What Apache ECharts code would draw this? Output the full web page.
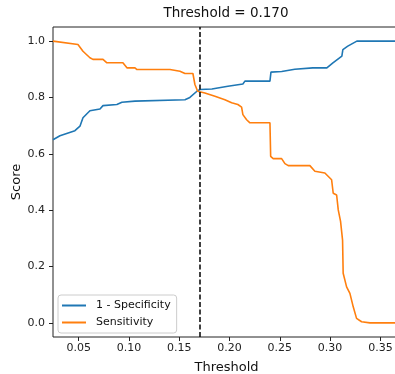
<!DOCTYPE html>
<html>
<head>
<meta charset="utf-8">
<script src="https://cdn.jsdelivr.net/npm/echarts@6/dist/echarts.min.js"></script>
<style>
  html, body { margin: 0; padding: 0; background: #fff; }
  #main { width: 395px; height: 374px; }
</style>
</head>
<body>
<div id="main"></div>
<script>
// 1 - Specificity curve (threshold, score)
const specThresh = [0.0245, 0.0314, 0.0463, 0.0513, 0.0543, 0.0612, 0.0712, 0.0742, 0.088, 0.093, 0.106,
  0.1557, 0.1606, 0.1676, 0.1706, 0.1825, 0.1984, 0.2133, 0.2153, 0.2402, 0.2412, 0.2519, 0.2649,
  0.2828, 0.2968, 0.3028, 0.3117, 0.3127, 0.3176, 0.3266, 0.3695];
const specScore = [0.650, 0.664, 0.682, 0.698, 0.728, 0.753, 0.759, 0.771, 0.775, 0.783, 0.787,
  0.792, 0.800, 0.822, 0.828, 0.830, 0.840, 0.848, 0.858, 0.858, 0.890, 0.892, 0.900,
  0.905, 0.905, 0.923, 0.947, 0.970, 0.982, 1.000, 1.000];

// Sensitivity curve (threshold, score)
const sensThresh = [0.0245, 0.0493, 0.0543, 0.0612, 0.0642, 0.0742, 0.0781, 0.094, 0.098, 0.106, 0.108,
  0.1408, 0.1507, 0.1557, 0.1636, 0.1656, 0.1683, 0.1755, 0.1855, 0.1954, 0.2021, 0.2083, 0.212,
  0.2133, 0.217, 0.2203, 0.2402, 0.2409, 0.2434, 0.2518, 0.2551, 0.2584, 0.2799, 0.2849, 0.2948,
  0.3015, 0.3031, 0.3065, 0.3081, 0.3104, 0.3124, 0.313, 0.3164, 0.3197, 0.323, 0.3263, 0.3313,
  0.3396, 0.3695];
const sensScore = [1.000, 0.988, 0.964, 0.941, 0.935, 0.935, 0.923, 0.923, 0.905, 0.905, 0.899,
  0.899, 0.893, 0.885, 0.885, 0.846, 0.822, 0.816, 0.804, 0.792, 0.781, 0.775, 0.766,
  0.739, 0.721, 0.710, 0.710, 0.591, 0.583, 0.583, 0.565, 0.558, 0.558, 0.538, 0.532,
  0.508, 0.460, 0.454, 0.401, 0.360, 0.294, 0.176, 0.128, 0.105, 0.057, 0.016, 0.004,
  0.000, 0.000];

const xTicks = [0.05, 0.10, 0.15, 0.20, 0.25, 0.30, 0.35];
const yTicks = [0.0, 0.2, 0.4, 0.6, 0.8, 1.0];
const threshold = 0.17;

const font = 'DejaVu Sans';

const chart = echarts.init(document.getElementById('main'));

const option = {
  animation: false,
  title: {
    text: 'Threshold = 0.170',
    left: 221,
    top: 1,
    textAlign: 'center',
    textStyle: { fontFamily: font, fontSize: 13.5, fontWeight: 'normal', color: '#111' }
  },
  grid: {
    left: 53,
    right: -5,
    top: 27,
    bottom: 37,
    containLabel: false,
    outerBoundsMode: 'none',
    show: true,
    borderColor: '#222',
    borderWidth: 1,
    backgroundColor: '#fff'
  },
  legend: {
    orient: 'vertical',
    left: 58,
    top: 295,
    padding: [5, 6, 5, 4],
    itemGap: 6,
    itemWidth: 24,
    itemHeight: 2,
    icon: 'rect',
    backgroundColor: 'rgba(255,255,255,0.8)',
    borderColor: '#ccc',
    borderWidth: 1,
    borderRadius: 3,
    textStyle: { fontFamily: font, fontSize: 11, color: '#111', padding: [0, 0, 0, 5] },
    data: ['1 - Specificity', 'Sensitivity']
  },
  xAxis: {
    type: 'value',
    min: 0.0245,
    max: 0.3695,
    name: 'Threshold',
    nameLocation: 'middle',
    nameGap: 24,
    nameTextStyle: { fontFamily: font, fontSize: 13, color: '#111' },
    axisLine: { show: false, onZero: false },
    axisTick: { show: true, length: 4, customValues: xTicks, lineStyle: { color: '#222' } },
    axisLabel: {
      customValues: xTicks,
      margin: 6,
      fontFamily: font,
      fontSize: 11,
      color: '#222',
      formatter: v => v.toFixed(2)
    },
    splitLine: { show: false }
  },
  yAxis: {
    type: 'value',
    min: -0.05,
    max: 1.05,
    name: 'Score',
    nameLocation: 'middle',
    nameRotate: 90,
    nameGap: 30,
    nameMoveOverlap: false,
    nameTextStyle: { fontFamily: font, fontSize: 13, color: '#111' },
    axisLine: { show: false, onZero: false },
    axisTick: { show: true, length: 4, customValues: yTicks, lineStyle: { color: '#222' } },
    axisLabel: {
      customValues: yTicks,
      margin: 8,
      fontFamily: font,
      fontSize: 11,
      color: '#222',
      formatter: v => v.toFixed(1)
    },
    splitLine: { show: false }
  },
  series: [
    {
      name: '1 - Specificity',
      type: 'line',
      data: specThresh.map((t, i) => [t, specScore[i]]),
      showSymbol: false,
      symbol: 'none',
      color: '#1f77b4',
      lineStyle: { width: 1.6, color: '#1f77b4' },
      markLine: {
        silent: true,
        symbol: 'none',
        label: { show: false },
        lineStyle: { color: '#111', type: [5, 2.5], width: 1.6 },
        data: [{ xAxis: threshold }]
      }
    },
    {
      name: 'Sensitivity',
      type: 'line',
      data: sensThresh.map((t, i) => [t, sensScore[i]]),
      showSymbol: false,
      symbol: 'none',
      color: '#ff7f0e',
      lineStyle: { width: 1.6, color: '#ff7f0e' }
    }
  ]
};

chart.setOption(option);
</script>
</body>
</html>
